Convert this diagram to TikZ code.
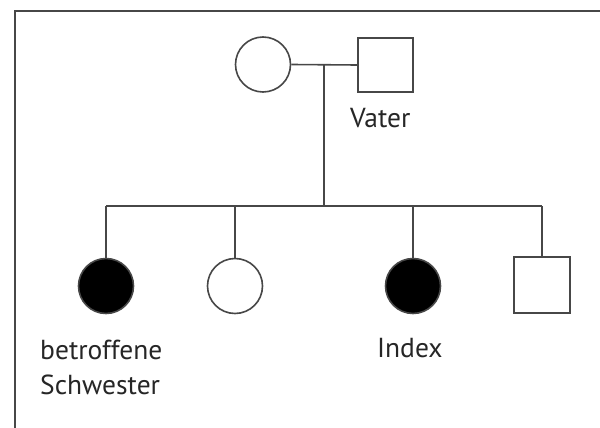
\documentclass[tikz,border=0pt]{standalone}
\usepackage{fontspec}
\setmainfont{PT Sans}
\begin{document}
\begin{tikzpicture}[x=1pt,y=-1pt,
  ln/.style={draw=black!72,line width=1.6pt},
  fem/.style={circle,ln,minimum size=55pt,inner sep=0pt},
  mal/.style={rectangle,ln,minimum width=55pt,minimum height=54pt,inner sep=0pt},
  aff/.style={fill=black},
  lbl/.style={anchor=base west,inner sep=0pt,font=\fontsize{27.5}{35}\selectfont,text=black!85}]
\useasboundingbox (0,0) rectangle (600,428);
\coordinate (fl) at (15,428);
\coordinate (fc) at (15,11);
\coordinate (fr) at (600,11);
\draw[ln] (fl) -- (fc) -- (fr);
% parents
\node[fem] (mother) at (263,64.5) {};
\node[mal] (father) at (385.5,65) {};
\node[lbl] (vater) at (350,128) {Vater};
\draw[ln] (mother.east) -- (father.west);
\coordinate (mate) at (324,64.5);
\coordinate (sib) at (324,206);
\draw[ln] (mate) -- (sib);
% children
\node[fem,aff] (c1) at (106,286) {};
\node[fem] (c2) at (235,286) {};
\node[fem,aff] (c3) at (413,286) {};
\node[mal,minimum width=56pt,minimum height=56pt] (c4) at (542,285) {};
\coordinate (s1) at (106,206);
\coordinate (s2) at (235,206);
\coordinate (s3) at (413,206);
\coordinate (s4) at (542,206);
\draw[ln] (s1) -- (s4);
\draw[ln] (s1) -- (c1.north);
\draw[ln] (s2) -- (c2.north);
\draw[ln] (s3) -- (c3.north);
\draw[ln] (s4) -- (c4.north);
\node[lbl] (l1) at (40,359) {betroffene};
\node[lbl] (l2) at (40,394) {Schwester};
\node[lbl] (l3) at (377,357) {Index};
\end{tikzpicture}
\end{document}
